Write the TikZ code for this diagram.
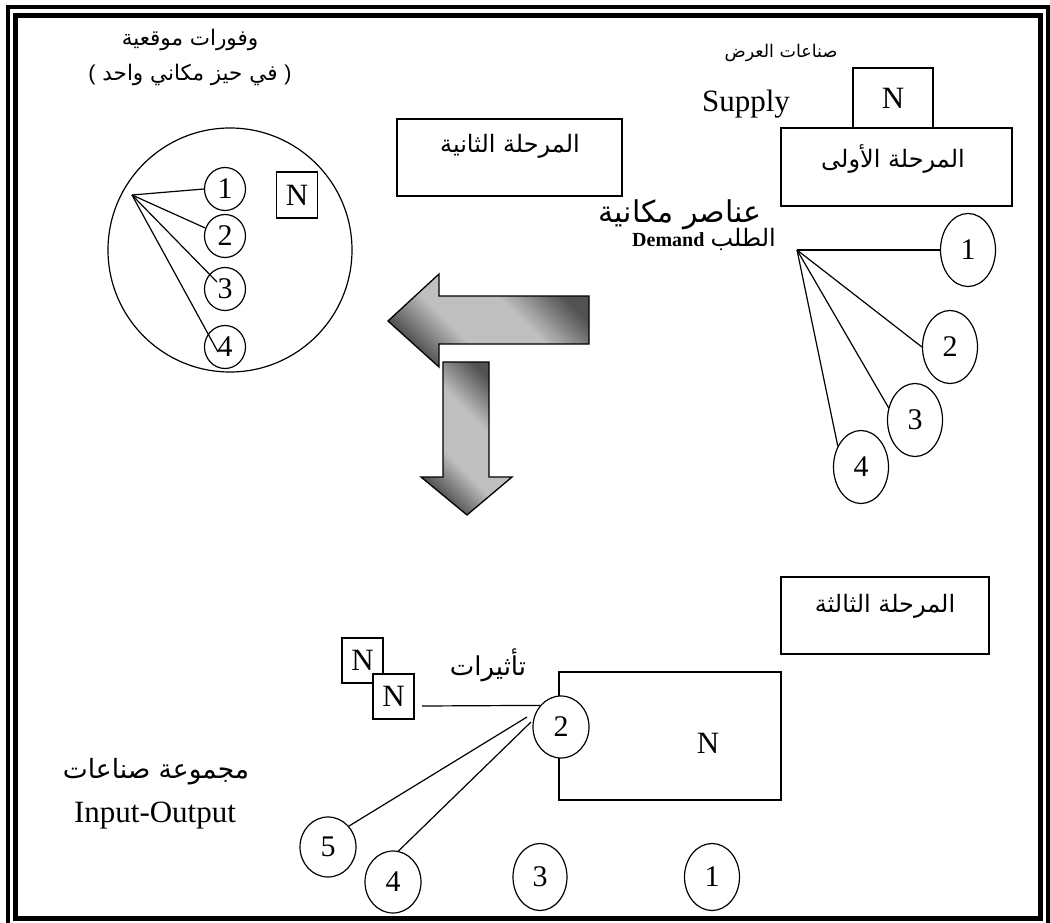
\documentclass[tikz,border=0pt]{standalone}
\usepackage{fontspec}
\setmainfont{Liberation Serif}
\newfontfamily\arabicfont[Script=Arabic]{DejaVu Sans}
\newfontfamily\parenfont{Liberation Sans}
\TeXXeTstate=1
\usetikzlibrary{shapes.geometric,calc}
\newcommand\artext[1]{\beginR #1\endR}
\pgfdeclareverticalshading{arrowshade}{100bp}{color(0bp)=(black!68); color(26bp)=(black!68); color(40bp)=(black!25); color(58bp)=(black!25); color(74bp)=(black!68); color(100bp)=(black!68)}
\begin{document}
\begin{tikzpicture}[x=1pt,y=-1pt,line width=1.2pt,
  ar/.style={font=\arabicfont\fontsize{#1}{#1}\selectfont,inner sep=0pt},
  lat/.style={font=\fontsize{#1}{#1}\selectfont,inner sep=0pt},
  nbox/.style={draw,fill=white,inner sep=0pt,font=\fontsize{31}{31}\selectfont},
  smallc/.style={ellipse,draw,inner sep=0pt,minimum width=41,minimum height=43,font=\fontsize{30}{30}\selectfont},
  bigc/.style={ellipse,draw,fill=white,inner sep=0pt,minimum width=55,minimum height=#1,font=\fontsize{30}{30}\selectfont},
  stage/.style={draw,inner sep=0pt},
  arrowfill/.style={draw=black,line width=1.3pt,shading=arrowshade,shading angle=-45}]
\useasboundingbox (0,0) rectangle (1050,923);
% page frame
\draw[line width=4pt] (8,7.5) rectangle (1048,927);
\draw[line width=5pt] (15.5,15.5) rectangle (1040.5,918.5);

% ---------- top left: local economies ----------
\node[ar=21.5] (eco1) at (190,40) {\artext{وفورات موقعية}};
\node[ar=21.5] (eco2) at (190,75) {{\parenfont(}\ \artext{في حيز مكاني واحد}\ {\parenfont)}};
\node[ellipse,draw,minimum width=244,minimum height=244,inner sep=0pt] (zone) at (230,250) {};
\node[smallc] (lc1) at (225,189) {1};
\node[smallc] (lc2) at (225,236) {2};
\node[smallc] (lc3) at (225,289) {3};
\node[smallc] (lc4) at (225,347) {4};
\node[nbox,minimum width=41,minimum height=46] (ln) at (297,195) {N};
\coordinate (lo) at (132,195);
\draw (lo) -- (lc1.west);
\draw (lo) -- (lc2.158);
\draw (lo) -- ($(lc3)+(-8,-7)$);
\draw (lo) -- ($(lc4)+(-7,5)$);

% ---------- stage 2 ----------
\node[stage,minimum width=225,minimum height=77] (st2) at (509.5,157.5) {};
\node[ar=24] (st2t) at (510,146) {\artext{المرحلة الثانية}};

% ---------- top right: stage 1 ----------
\node[ar=17.5] (supind) at (781,53) {\artext{صناعات العرض}};
\node[lat=31,anchor=base] (supply) at (746,112) {Supply};
\node[stage,minimum width=231,minimum height=78] (st1) at (896.5,167) {};
\node[nbox,minimum width=80,minimum height=60] (tn) at (893,98) {N};
\node[ar=24] (st1t) at (893,159) {\artext{المرحلة الأولى}};
\node[ar=30] (spat) at (680,215) {\artext{عناصر مكانية}};
\node[anchor=base east,inner sep=0pt,font=\bfseries\fontsize{20}{20}\selectfont] (demand) at (705,246) {Demand};
\node[ar=24,anchor=base west] (talab) at (710,246) {\artext{الطلب}};
\coordinate (ro) at (797,250);
\node[bigc=73] (rc1) at (968,250) {1};
\node[bigc=73] (rc2) at (950,347) {2};
\node[bigc=73] (rc3) at (915,420) {3};
\node[bigc=73] (rc4) at (861,467) {4};
\draw (ro) -- (rc1.west);
\draw (ro) -- (rc2.west);
\draw (ro) -- (rc3.155);
\draw (ro) -- (rc4.138);

% ---------- big arrows ----------
\path[arrowfill] (589,296) -- (439,296) -- (439,274) -- (388,321) -- (439,367) -- (439,344) -- (589,344) -- cycle;
\path[arrowfill] (443,362) -- (489,362) -- (489,477) -- (512,477) -- (467,515) -- (421,477) -- (443,477) -- cycle;

% ---------- stage 3 ----------
\node[stage,minimum width=208,minimum height=77] (st3) at (885,615.5) {};
\node[ar=24] (st3t) at (885,606) {\artext{المرحلة الثالثة}};
\node[stage,minimum width=222,minimum height=128] (plant) at (670,736) {};
\node[lat=31] (pn) at (708,743) {N};
\node[bigc=62,minimum width=56] (bc2) at (561,727) {2};
\node[nbox,minimum width=41,minimum height=45] (bn1) at (362.5,660.5) {N};
\node[nbox,minimum width=41,minimum height=45] (bn2) at (393.5,696.5) {N};
\node[ar=26] (effects) at (488,665) {\artext{تأثيرات}};
\coordinate (hs) at (422,706);
\draw (hs) -- (bc2.134);
\node[bigc=60,minimum width=56] (bc5) at (328,847) {5};
\node[bigc=62,minimum width=56] (bc4) at (393,882) {4};
\node[bigc=67,minimum width=54] (bc3) at (540,877) {3};
\node[bigc=67] (bc1) at (712,877) {1};
\coordinate (s5) at (527,717);
\coordinate (s4) at (531,722);
\draw (s5) -- (bc5.45);
\draw (s4) -- (bc4.80);
\node[ar=26.5] (group) at (156,772) {\artext{مجموعة صناعات}};
\node[lat=31,anchor=base] (io) at (155,822) {Input-Output};
\end{tikzpicture}
\end{document}
